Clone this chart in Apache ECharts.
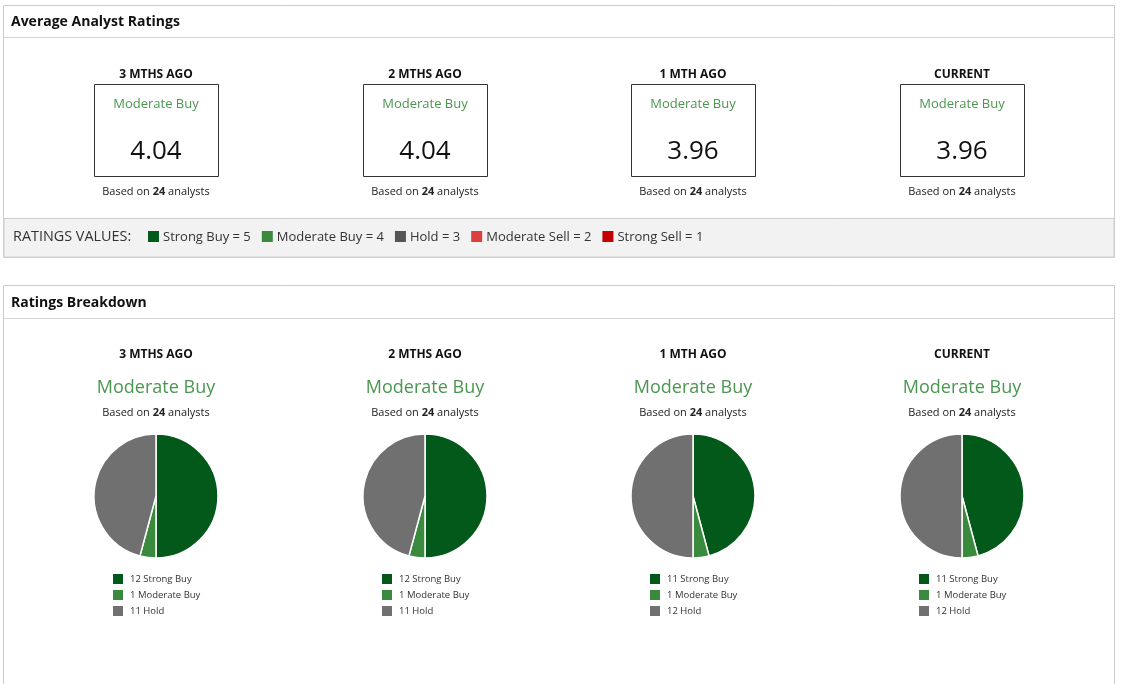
<!DOCTYPE html>
<html>
<head>
<meta charset="utf-8">
<title>Analyst Ratings</title>
<script src="https://cdn.jsdelivr.net/npm/echarts@6/dist/echarts.min.js"></script>
<style>
  html, body { margin: 0; padding: 0; background: #fff; }
  #chart { width: 1123px; height: 684px; }
</style>
</head>
<body>
<div id="chart"></div>
<script>
var periods = ['3 MTHS AGO', '2 MTHS AGO', '1 MTH AGO', 'CURRENT'];
var avgRating = [4.04, 4.04, 3.96, 3.96];
var consensus = ['Moderate Buy', 'Moderate Buy', 'Moderate Buy', 'Moderate Buy'];
var analysts = [24, 24, 24, 24];
var strongBuy = [12, 12, 11, 11];
var moderateBuy = [1, 1, 1, 1];
var hold = [11, 11, 12, 12];
var ratingNames = ['Strong Buy', 'Moderate Buy', 'Hold', 'Moderate Sell', 'Strong Sell'];
var ratingValues = [5, 4, 3, 2, 1];

var FONT = '"Open Sans", "Noto Sans", sans-serif';
var ratingColors = ['#03591a', '#3a8a3e', '#555555', '#d94040', '#c40000'];
var pieColors = ['#03591a', '#3a8a3e', '#707070'];
var green = '#4b9650';
var colX = [156, 425, 693, 962];

var chart = echarts.init(document.getElementById('chart'));

// measure text so the ratings-values strip lays out like the page does
var ctx = document.createElement('canvas').getContext('2d');
function textWidth(str, size) {
    ctx.font = size + 'px ' + FONT;
    return ctx.measureText(str).width;
}

function basedOn(n, y, x) {
    return {
        type: 'text', x: x, y: y,
        style: {
            text: '{a|Based on }{b|' + n + '}{a| analysts}',
            align: 'center', verticalAlign: 'middle',
            rich: {
                a: { fontFamily: FONT, fontSize: 11, fill: '#222' },
                b: { fontFamily: FONT, fontSize: 11, fontWeight: 'bold', fill: '#222' }
            }
        }
    };
}

var graphics = [
    // top panel
    { type: 'rect', shape: { x: 3.5, y: 5.5, width: 1111, height: 252 }, style: { fill: '#fff', stroke: '#cccccc', lineWidth: 1 } },
    { type: 'line', shape: { x1: 4, y1: 37.5, x2: 1114, y2: 37.5 }, style: { stroke: '#d4d4d4', lineWidth: 1 } },
    { type: 'text', x: 11, y: 22, style: { text: 'Average Analyst Ratings', font: 'bold 14px ' + FONT, fill: '#111', verticalAlign: 'middle' } },
    { type: 'rect', shape: { x: 4, y: 218.5, width: 1110, height: 38.5 }, style: { fill: '#f2f2f2', stroke: '#d0d0d0', lineWidth: 1 } },
    { type: 'text', x: 13, y: 237, style: { text: 'RATINGS VALUES:', font: '14.4px ' + FONT, fill: '#333', verticalAlign: 'middle' } },
    // bottom panel
    { type: 'rect', shape: { x: 3.5, y: 285.5, width: 1111, height: 420 }, style: { fill: '#fff', stroke: '#cccccc', lineWidth: 1 } },
    { type: 'line', shape: { x1: 4, y1: 318.5, x2: 1114, y2: 318.5 }, style: { stroke: '#d4d4d4', lineWidth: 1 } },
    { type: 'text', x: 11, y: 303, style: { text: 'Ratings Breakdown', font: 'bold 14px ' + FONT, fill: '#111', verticalAlign: 'middle' } }
];

// ratings values strip
var lx = 148;
ratingNames.forEach(function (name, i) {
    var label = name + ' = ' + ratingValues[i];
    graphics.push({ type: 'rect', shape: { x: lx, y: 231, width: 11, height: 11 }, style: { fill: ratingColors[i] } });
    graphics.push({ type: 'text', x: lx + 15, y: 237, style: { text: label, font: '13px ' + FONT, fill: '#333', verticalAlign: 'middle' } });
    lx += 15 + textWidth(label, 13) + 11;
});

var series = [];
var legends = [];

periods.forEach(function (p, i) {
    var cx = colX[i];
    // average rating card
    graphics.push({ type: 'text', x: cx, y: 75, style: { text: p, font: 'bold 12px ' + FONT, fill: '#111', align: 'center', verticalAlign: 'middle' } });
    graphics.push({ type: 'rect', shape: { x: cx - 61.5, y: 84.5, width: 124, height: 92 }, style: { fill: '#fff', stroke: '#333', lineWidth: 1 } });
    graphics.push({ type: 'text', x: cx, y: 104.5, style: { text: consensus[i], font: '13px ' + FONT, fill: green, align: 'center', verticalAlign: 'middle' } });
    graphics.push({ type: 'text', x: cx, y: 152, style: { text: avgRating[i].toFixed(2), font: '26px ' + FONT, fill: '#111', align: 'center', verticalAlign: 'middle' } });
    graphics.push(basedOn(analysts[i], 192, cx));

    // breakdown header
    graphics.push({ type: 'text', x: cx, y: 355, style: { text: p, font: 'bold 12px ' + FONT, fill: '#111', align: 'center', verticalAlign: 'middle' } });
    graphics.push({ type: 'text', x: cx, y: 388, style: { text: consensus[i], font: '18px ' + FONT, fill: green, align: 'center', verticalAlign: 'middle' } });
    graphics.push(basedOn(analysts[i], 413, cx));

    var counts = [strongBuy[i], moderateBuy[i], hold[i]];
    var data = counts.map(function (c, k) {
        return { value: c, name: c + ' ' + ratingNames[k], itemStyle: { color: pieColors[k] } };
    });
    series.push({
        type: 'pie',
        center: [cx, 496],
        radius: [0, 62],
        startAngle: 90,
        clockwise: true,
        silent: true,
        label: { show: false },
        labelLine: { show: false },
        itemStyle: { borderColor: '#fff', borderWidth: 1.5 },
        data: data
    });
    legends.push({
        orient: 'vertical',
        left: cx - 43,
        top: 574,
        padding: 0,
        itemWidth: 10,
        itemHeight: 10,
        itemGap: 6,
        icon: 'rect',
        itemStyle: { borderWidth: 0 },
        selectedMode: false,
        data: data.map(function (d) { return d.name; }),
        textStyle: { fontFamily: FONT, fontSize: 9.5, color: '#333', padding: [0, 0, 0, 2] }
    });
});

chart.setOption({
    animation: false,
    graphic: graphics,
    legend: legends,
    series: series
});
</script>
</body>
</html>
